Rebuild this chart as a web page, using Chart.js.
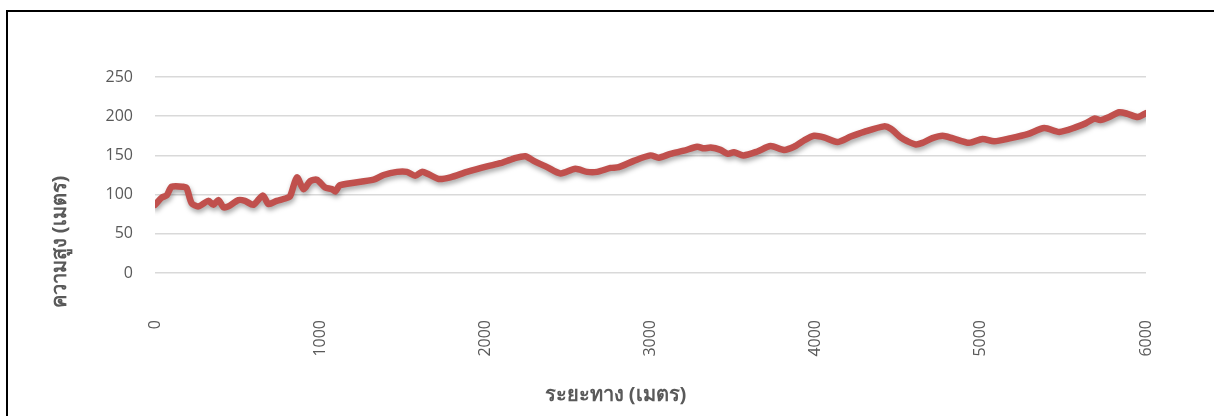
<!DOCTYPE html>
<html>
<head>
<meta charset="utf-8">
<script src="https://cdn.jsdelivr.net/npm/chart.js@4"></script>
<style>
    html, body { margin: 0; padding: 0; background: #fff; }
    #wrap { position: relative; width: 1214px; height: 416px; overflow: hidden; }
    #frame {
        position: absolute; left: 6px; top: 10px; width: 1300px; height: 500px;
        border-left: 2px solid #000; border-top: 2px solid #000;
    }
    canvas { position: absolute; left: 0; top: 0; }
</style>
</head>
<body>
<div id="wrap">
    <div id="frame"></div>
    <canvas id="profileChart" width="1214" height="416"></canvas>
</div>
<script>
// ระยะทาง (เมตร)
const distance = [
    0, 40, 71, 101, 172, 192, 222, 263, 323, 354,
    384, 414, 444, 505, 545, 596, 653, 687, 737, 788,
    818, 859, 899, 939, 980, 1030, 1071, 1091, 1121, 1323,
    1384, 1465, 1525, 1576, 1616, 1657, 1717, 1788, 1889, 2010,
    2091, 2172, 2242, 2293, 2374, 2455, 2545, 2616, 2677, 2758,
    2808, 2899, 3000, 3050, 3121, 3202, 3283, 3323, 3364, 3424,
    3469, 3505, 3562, 3647, 3727, 3808, 3869, 3929, 3990, 4050,
    4131, 4212, 4293, 4414, 4455, 4515, 4556, 4606, 4646, 4707,
    4768, 4828, 4929, 5010, 5081, 5182, 5283, 5384, 5475, 5576,
    5636, 5687, 5723, 5778, 5838, 5889, 5950, 6000
];

// ความสูง (เมตร)
const elevation = [
    87, 96, 99, 110, 110, 108, 89, 85, 92, 87,
    93, 84, 85, 93, 92, 87, 99, 88, 92, 95,
    98, 122, 107, 117, 119, 109, 107, 104, 112, 119,
    125, 129, 129, 124, 129, 126, 120, 122, 129, 136,
    140, 146, 149, 143, 135, 127, 133, 129, 129, 134,
    135, 143, 150, 147, 152, 156, 161, 159, 160, 157,
    152, 154, 150, 155, 162, 157, 161, 169, 175, 173,
    167, 174, 180, 187, 184, 173, 168, 164, 166, 172,
    175, 172, 166, 171, 168, 172, 177, 185, 180, 186,
    191, 197, 195, 199, 205, 203, 199, 204
];

const xTicks = [0, 1000, 2000, 3000, 4000, 5000, 6000];
const yTicks = [0, 50, 100, 150, 200, 250];

const xTitle = "ระยะทาง (เมตร)";
const yTitle = "ความสูง (เมตร)";

const textColor = "#595959";
const fontFamily = "'Open Sans', 'Noto Sans', sans-serif";

// soft shadow under the line, like the office chart
const lineShadow = {
    id: "lineShadow",
    beforeDatasetsDraw(chart) {
        const ctx = chart.ctx;
        ctx.save();
        ctx.shadowColor = "rgba(0, 0, 0, 0.35)";
        ctx.shadowBlur = 5;
        ctx.shadowOffsetX = 1;
        ctx.shadowOffsetY = 3;
    },
    afterDatasetsDraw(chart) {
        chart.ctx.restore();
    }
};

// axis titles placed where the original puts them
const axisTitles = {
    id: "axisTitles",
    afterDraw(chart) {
        const ctx = chart.ctx;
        const area = chart.chartArea;
        ctx.save();
        ctx.fillStyle = textColor;
        ctx.font = "bold 20px " + fontFamily;
        ctx.textAlign = "center";
        ctx.textBaseline = "middle";
        ctx.fillText(xTitle, (area.left + area.right) / 2 - 35, 395);

        ctx.translate(60, 242);
        ctx.rotate(-Math.PI / 2);
        ctx.fillText(yTitle, 0, 0);
        ctx.restore();
    }
};

const points = distance.map((d, i) => ({ x: d, y: elevation[i] }));

const config = {
    type: "line",
    data: {
        datasets: [{
            label: yTitle,
            data: points,
            borderColor: "#c0504d",
            borderWidth: 6.5,
            borderJoinStyle: "round",
            borderCapStyle: "round",
            pointRadius: 0,
            tension: 0.25,
            fill: false
        }]
    },
    options: {
        responsive: false,
        animation: false,
        layout: { padding: { left: 0, right: 68, top: 77, bottom: 0 } },
        plugins: {
            legend: { display: false },
            tooltip: { enabled: false }
        },
        scales: {
            x: {
                type: "linear",
                min: 0,
                max: 6000,
                afterFit(scale) { scale.height = 143; },
                afterBuildTicks(scale) { scale.ticks = xTicks.map(v => ({ value: v })); },
                grid: { display: false, drawTicks: false },
                border: { display: false },
                ticks: {
                    color: textColor,
                    font: { size: 16, family: fontFamily },
                    minRotation: 90,
                    maxRotation: 90,
                    padding: 47,
                    callback: v => String(v)
                }
            },
            y: {
                min: 0,
                max: 250,
                afterFit(scale) { scale.width = 155; },
                afterBuildTicks(scale) { scale.ticks = yTicks.map(v => ({ value: v })); },
                grid: { color: "#d9d9d9", lineWidth: 1.5, drawTicks: false },
                border: { display: false },
                ticks: {
                    color: textColor,
                    font: { size: 16, family: fontFamily },
                    padding: 22,
                    callback: v => String(v)
                }
            }
        }
    },
    plugins: [lineShadow, axisTitles]
};

const ctx = document.getElementById("profileChart").getContext("2d");
new Chart(ctx, config);
</script>
</body>
</html>
